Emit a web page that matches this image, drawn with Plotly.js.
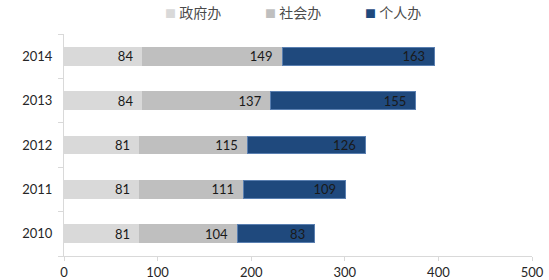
<!DOCTYPE html>
<html>
<head>
<meta charset="utf-8">
<script src="https://cdn.plot.ly/plotly-3.0.1.min.js"></script>
<style>html,body{margin:0;padding:0;background:#fff}#chart{width:549px;height:280px}</style>
</head>
<body>
<div id="chart"></div>
<script>
const years = ['2010', '2011', '2012', '2013', '2014'];
const gov = [81, 81, 81, 84, 84];
const social = [104, 111, 115, 137, 149];
const personal = [83, 109, 126, 155, 163];
const seriesNames = ['政府办', '社会办', '个人办'];
const xTicks = [0, 100, 200, 300, 400, 500];

const colors = ['#d9d9d9', '#bfbfbf', '#1f497d'];
const lineColors = ['#d9d9d9', '#bfbfbf', '#5a7fb0'];
const baseFont = {family: 'Lato, "Liberation Sans", sans-serif', size: 13, color: '#262626'};
function mk(vals, i) {
  return {
    type: 'bar', orientation: 'h', y: years, x: vals, name: seriesNames[i],
    marker: {color: colors[i], line: {color: lineColors[i], width: 1}},
    text: vals.map(v => String(v) + '\u00a0\u00a0'), textposition: 'inside', insidetextanchor: 'end',
    constraintext: 'none', cliponaxis: false,
    textangle: 0, insidetextfont: {family: baseFont.family, size: 13, color: '#1a1a1a'},
    hoverinfo: 'none', showlegend: false
  };
}
const data = [mk(gov, 0), mk(social, 1), mk(personal, 2)];

const legendX = [0.2115, 0.425, 0.639];
const annotations = seriesNames.map((n, i) => ({
  xref: 'paper', yref: 'paper', x: legendX[i], y: 1.099, xanchor: 'left', yanchor: 'middle',
  showarrow: false,
  text: '<span style="color:' + colors[i] + ';font-size:11px">■</span> ' + n,
  font: {family: '"Noto Sans CJK SC", sans-serif', size: 14, color: '#4a4a4a'}
}));

const layout = {
  width: 549, height: 280,
  margin: {l: 64, r: 17, t: 34, b: 24},
  paper_bgcolor: '#fff', plot_bgcolor: '#fff',
  barmode: 'stack', bargap: 0.6,
  font: baseFont,
  showlegend: false,
  annotations: annotations,
  xaxis: {range: [0, 500], tickvals: xTicks, ticktext: xTicks.map(String),
    showgrid: false, zeroline: false, showline: true, linecolor: '#d9d9d9', linewidth: 1,
    ticks: 'outside', ticklen: 4, tickcolor: '#d9d9d9', tickfont: baseFont, fixedrange: true},
  yaxis: {type: 'category', showgrid: false, zeroline: false, showline: true,
    linecolor: '#d9d9d9', linewidth: 1, ticks: 'outside', tickson: 'boundaries',
    ticklen: 5, tickcolor: '#d9d9d9', tickfont: baseFont, ticklabelstandoff: 8, fixedrange: true}
};
Plotly.newPlot('chart', data, layout, {displayModeBar: false, staticPlot: true});
</script>
</body>
</html>
